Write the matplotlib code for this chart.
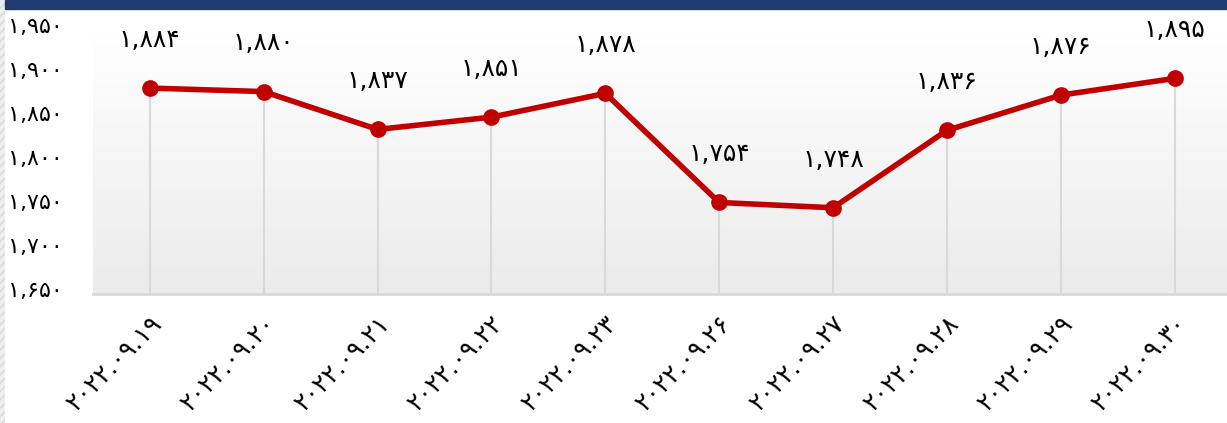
import numpy as np
import matplotlib.pyplot as plt
from matplotlib.patches import Rectangle
from matplotlib.colors import LinearSegmentedColormap
from matplotlib.transforms import ScaledTranslation

dates = ["2022.09.19", "2022.09.20", "2022.09.21", "2022.09.22", "2022.09.23",
         "2022.09.26", "2022.09.27", "2022.09.28", "2022.09.29", "2022.09.30"]
values = [1884, 1880, 1837, 1851, 1878, 1754, 1748, 1836, 1876, 1895]
yticks = [1650, 1700, 1750, 1800, 1850, 1900, 1950]

fa_digits = str.maketrans("0123456789", "۰۱۲۳۴۵۶۷۸۹")


def fa(s):
    return s.translate(fa_digits)


plt.rcParams["font.family"] = ["DejaVu Sans"]

fig = plt.figure(figsize=(12.27, 4.23), dpi=100)
ax = fig.add_axes([93 / 1227, 1 - 294 / 423, 1 - 93 / 1227, (294 - 30) / 423])

x = np.arange(len(values))

# gradient background
grad = np.linspace(0, 1, 256).reshape(-1, 1)
ax.imshow(grad, extent=[-0.5, 9.46, 1650, 1950], aspect="auto",
          cmap=LinearSegmentedColormap.from_list("g", ["#ffffff", "#ebebeb"]),
          origin="upper", zorder=0)

ax.vlines(x, 1650, values, color="#d9d9d9", lw=1.5, zorder=1)
ax.plot(x, values, color="#c00000", lw=4, marker="o", markersize=11, zorder=3)

for xi, v in zip(x, values):
    ax.annotate(fa(f"{v:,}"), (xi, v), xytext=(0, 26), textcoords="offset points",
                ha="center", va="bottom", fontsize=18, color="black")

ax.set_xlim(-0.5, 9.46)
ax.set_ylim(1650, 1950)
ax.set_yticks(yticks)
ax.set_yticklabels([fa(f"{t:,}") for t in yticks], fontsize=16)
ax.set_xticks(x)
ax.set_xticklabels([fa(d) for d in dates], rotation=45, ha="right",
                   rotation_mode="anchor", fontsize=18)
ax.tick_params(axis="y", length=0, pad=22)
ax.tick_params(axis="x", length=0, pad=12)
for lab in ax.get_yticklabels():
    lab.set_transform(lab.get_transform() + ScaledTranslation(0, 5 / 100, fig.dpi_scale_trans))
for s in ["top", "right", "left"]:
    ax.spines[s].set_visible(False)
ax.spines["bottom"].set_color("#d9d9d9")
ax.spines["bottom"].set_linewidth(2)

# top band and left strip
fig.patches.append(Rectangle((5 / 1227, 1 - 9 / 423), 1, 9 / 423,
                             transform=fig.transFigure, color="#1f3b70", zorder=5))
fig.patches.append(Rectangle((0, 0), 5 / 1227, 1, transform=fig.transFigure,
                             facecolor="#eeeeee", edgecolor="#d8d8d8", hatch="////", lw=0))

fig.savefig("out.png", dpi=100)
